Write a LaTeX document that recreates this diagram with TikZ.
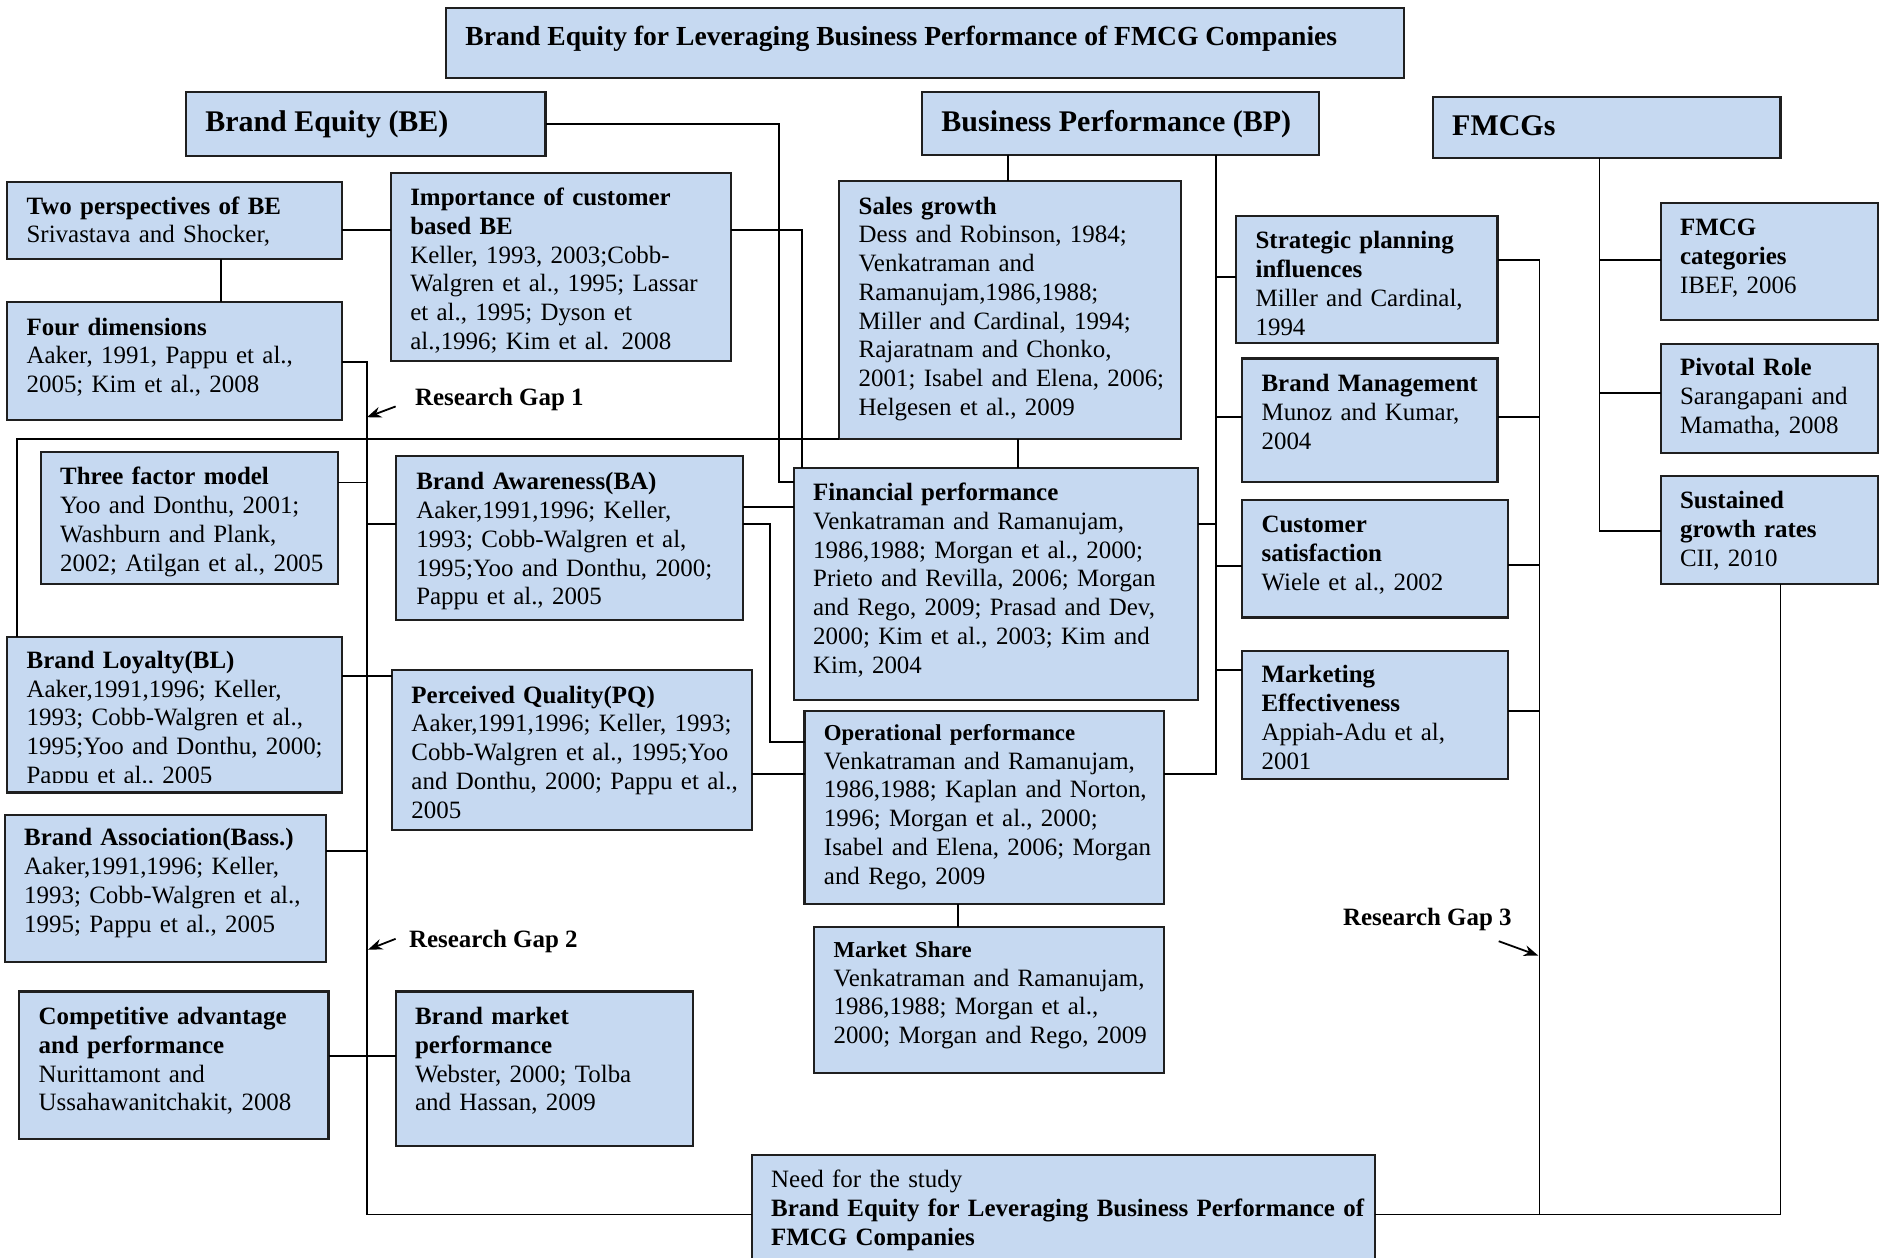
\documentclass[tikz,border=0pt]{standalone}
\usepackage{fontspec}
\setmainfont{Liberation Serif}
\usetikzlibrary{arrows.meta,calc}
\definecolor{boxblue}{RGB}{198,217,241}
\tikzset{
 box/.style={draw=black!88, line width=1.8pt, fill=boxblue, rectangle, inner sep=0pt, outer sep=0pt},
 txt/.style={anchor=base west, inner sep=0pt, align=left, font=\fontsize{20.8}{24}\selectfont},
 head/.style={anchor=base west, inner sep=0pt, font=\fontsize{25}{30}\selectfont\bfseries},
 ttl/.style={anchor=base west, inner sep=0pt, font=\fontsize{23}{28}\selectfont\bfseries},
 rg/.style={anchor=base west, inner sep=0pt, font=\fontsize{20.8}{24}\selectfont\bfseries},
 conn/.style={draw=black, line width=1.5pt},
 arr/.style={conn, -{Stealth[length=12pt,width=9pt]}},
}
\newcommand\BX[5]{\node[box, anchor=north west, minimum width=#4-#2, minimum height=#5-#3] (#1) at (#2,#3) {};}
\begin{document}
\begin{tikzpicture}[x=1pt,y=-1pt]
\clip (0,0) rectangle (1568,1049);
% ---------- boxes ----------
\BX{title}{372}{7}{1171}{65}
\BX{be}{155}{77}{455}{130}
\BX{bp}{769}{77}{1100}{129}
\BX{fmcgs}{1195}{81}{1485}{132}
\BX{twop}{6}{152}{285}{216}
\BX{fourd}{6}{252}{285}{350}
\BX{imp}{326}{144}{610}{301}
\BX{three}{34}{377}{282}{487}
\BX{ba}{330}{380}{620}{517}
\BX{bl}{6}{531}{285}{661}
\BX{pq}{327}{559}{627}{692}
\BX{bass}{4}{680}{272}{802}
\BX{comp}{16}{827}{274}{950}
\BX{bmp}{330}{827}{578}{956}
\BX{sales}{700}{151}{985}{366}
\BX{fin}{662}{390}{999}{584}
\BX{ops}{671}{593}{971}{754}
\BX{ms}{679}{773}{971}{895}
\BX{need}{627}{963}{1147}{1065}
\BX{strat}{1031}{180}{1249}{286}
\BX{bm}{1036}{299}{1249}{402}
\BX{cs}{1036}{417}{1258}{515}
\BX{me}{1036}{543}{1258}{650}
\BX{cat}{1385}{169}{1566}{267}
\BX{piv}{1385}{287}{1566}{378}
\BX{sus}{1385}{397}{1566}{487}
% ---------- texts ----------
\node[ttl] (title-t) at (388,38) {Brand Equity for Leveraging Business Performance of FMCG Companies};
\node[head] (be-t) at (171,110) {Brand Equity (BE)};
\node[head] (bp-t) at (785,110) {Business Performance (BP)};
\node[head] (fmcgs-t) at (1211,113) {FMCGs};
\node[txt, text width=260] (twop-t) at (22,178.5) {\textbf{Two perspectives of BE}\\Srivastava and Shocker,};
\node[txt, text width=260] (fourd-t) at (22,279.5) {\textbf{Four dimensions}\\Aaker, 1991, Pappu et al.,\\2005; Kim et al., 2008};
\node[txt, text width=266] (imp-t) at (342,171.5) {\textbf{Importance of customer}\\\textbf{based BE}\\Keller, 1993, 2003;Cobb-\\Walgren et al., 1995; Lassar\\et al., 1995; Dyson et\\al.,1996; Kim et al. 2008};
\node[txt, text width=230] (three-t) at (50,404.5) {\textbf{Three factor model}\\Yoo and Donthu, 2001;\\Washburn and Plank,\\2002; Atilgan et al., 2005};
\node[txt, text width=271] (ba-t) at (347,408.5) {\textbf{Brand Awareness(BA)}\\Aaker,1991,1996; Keller,\\1993; Cobb-Walgren et al,\\1995;Yoo and Donthu, 2000;\\Pappu et al., 2005};
\begin{scope}
\clip (6,531) rectangle (285,653);
\node[txt, text width=261] (bl-t) at (22,557.5) {\textbf{Brand Loyalty(BL)}\\Aaker,1991,1996; Keller,\\1993; Cobb-Walgren et al.,\\1995;Yoo and Donthu, 2000;\\Pappu et al., 2005};
\end{scope}
\node[txt, text width=282] (pq-t) at (343,586.5) {\textbf{Perceived Quality(PQ)}\\Aaker,1991,1996; Keller, 1993;\\Cobb-Walgren et al., 1995;Yoo\\and Donthu, 2000; Pappu et al.,\\2005};
\node[txt, text width=250] (bass-t) at (20,705.5) {\textbf{Brand Association(Bass.)}\\Aaker,1991,1996; Keller,\\1993; Cobb-Walgren et al.,\\1995; Pappu et al., 2005};
\node[txt, text width=240] (comp-t) at (32,854.5) {\textbf{Competitive advantage}\\\textbf{and performance}\\Nurittamont and\\Ussahawanitchakit, 2008};
\node[txt, text width=230] (bmp-t) at (346,854.5) {\textbf{Brand market}\\\textbf{performance}\\Webster, 2000; Tolba\\and Hassan, 2009};
\node[txt, text width=267] (sales-t) at (716,178.5) {\textbf{Sales growth}\\Dess and Robinson, 1984;\\Venkatraman and\\Ramanujam,1986,1988;\\Miller and Cardinal, 1994;\\Rajaratnam and Chonko,\\2001; Isabel and Elena, 2006;\\Helgesen et al., 2009};
\node[txt, text width=319] (fin-t) at (678,417.5) {\textbf{Financial performance}\\Venkatraman and Ramanujam,\\1986,1988; Morgan et al., 2000;\\Prieto and Revilla, 2006; Morgan\\and Rego, 2009; Prasad and Dev,\\2000; Kim et al., 2003; Kim and\\Kim, 2004};
\node[txt, text width=282] (ops-t) at (687,617.5) {{\fontsize{19}{24}\selectfont\bfseries Operational performance}\\Venkatraman and Ramanujam,\\1986,1988; Kaplan and Norton,\\1996; Morgan et al., 2000;\\Isabel and Elena, 2006; Morgan\\and Rego, 2009};
\node[txt, text width=274] (ms-t) at (695,798.5) {{\fontsize{19}{24}\selectfont\bfseries Market Share}\\Venkatraman and Ramanujam,\\1986,1988; Morgan et al.,\\2000; Morgan and Rego, 2009};
\node[txt, text width=502] (need-t) at (643,990.5) {Need for the study\\\textbf{Brand Equity for Leveraging Business Performance of}\\\textbf{FMCG Companies}};
\node[txt, text width=200] (strat-t) at (1047,207.5) {\textbf{Strategic planning}\\\textbf{influences}\\Miller and Cardinal,\\1994};
\node[txt, text width=195] (bm-t) at (1052,326.5) {\textbf{Brand Management}\\Munoz and Kumar,\\2004};
\node[txt, text width=204] (cs-t) at (1052,444.5) {\textbf{Customer}\\\textbf{satisfaction}\\Wiele et al., 2002};
\node[txt, text width=204] (me-t) at (1052,569.5) {\textbf{Marketing}\\\textbf{Effectiveness}\\Appiah-Adu et al,\\2001};
\node[txt, text width=163] (cat-t) at (1401,196.5) {\textbf{FMCG}\\\textbf{categories}\\IBEF, 2006};
\node[txt, text width=163] (piv-t) at (1401,313.5) {\textbf{Pivotal Role}\\Sarangapani and\\Mamatha, 2008};
\node[txt, text width=163] (sus-t) at (1401,424.5) {\textbf{Sustained}\\\textbf{growth rates}\\CII, 2010};
\node[rg] (rg1) at (346,338) {Research Gap 1};
\node[rg] (rg2) at (341,790) {Research Gap 2};
\node[rg] (rg3) at (1120,772) {Research Gap 3};
% ---------- connectors: left part ----------
\coordinate (jbe) at (650,402);
\draw[conn] (be.east) -| (jbe) -- (jbe -| fin.west);
\coordinate (jimp) at (669,192);
\draw[conn] (jimp -| imp.east) -- (jimp) -- (jimp |- fin.north);
\draw[conn] (jimp -| twop.east) -- (jimp -| imp.west);
\coordinate (jtf) at (184,234);
\draw[conn] (jtf |- twop.south) -- (jtf |- fourd.north);
\coordinate (spT) at (306,302);
\coordinate (spB) at (306,1013);
\draw[conn] (spT -| fourd.east) -- (spT) -- (spB) -- (spB -| need.west);
\coordinate (y3) at (306,402.5);
\draw[conn] (y3 -| three.east) -- (y3);
\coordinate (yba) at (306,437);
\draw[conn] (yba) -- (yba -| ba.west);
\coordinate (ybl) at (306,564);
\draw[conn] (ybl -| bl.east) -- (ybl -| pq.west);
\coordinate (ybass) at (306,710);
\draw[conn] (ybass -| bass.east) -- (ybass);
\coordinate (ycomp) at (306,881);
\draw[conn] (ycomp -| comp.east) -- (ycomp -| bmp.west);
\coordinate (jbl) at (14,366);
\draw[conn] (jbl |- bl.north) -- (jbl) -- (jbl -| sales.west);
\coordinate (yba2) at (640,423);
\draw[conn] (yba2 -| ba.east) -- (yba2 -| fin.west);
\coordinate (jops) at (642,437);
\coordinate (jops2) at (642,619);
\draw[conn] (jops -| ba.east) -- (jops) -- (jops2) -- (jops2 -| ops.west);
\coordinate (ypq) at (650,645.5);
\draw[conn] (ypq -| pq.east) -- (ypq -| ops.west);
% ---------- connectors: BP ----------
\coordinate (xbp) at (841,140);
\draw[conn] (xbp |- bp.south) -- (xbp |- sales.north);
\coordinate (xsf) at (849,378);
\draw[conn] (xsf |- sales.south) -- (xsf |- fin.north);
\coordinate (xom) at (799,763);
\draw[conn] (xom |- ops.south) -- (xom |- ms.north);
\coordinate (bpB) at (1014,645.5);
\draw[conn] (bpB |- bp.south) -- (bpB) -- (bpB -| ops.east);
\coordinate (yfin) at (1014,437);
\draw[conn] (yfin -| fin.east) -- (yfin);
\foreach \yy/\nn in {231/strat,348/bm,472/cs,559/me}{
  \coordinate (bpj) at (1014,\yy);
  \draw[conn] (bpj) -- (bpj -| \nn.west);
}
% ---------- connectors: right spine ----------
\coordinate (rsT) at (1284,217);
\coordinate (rsB) at (1284,1013);
\draw[conn] (rsT -| strat.east) -- (rsT) -- (rsB);
\foreach \yy/\nn in {348/bm,471/cs,593/me}{
  \coordinate (rsj) at (1284,\yy);
  \draw[conn] (rsj -| \nn.east) -- (rsj);
}
\coordinate (susB) at (1485,1013);
\draw[conn] (rsB -| need.east) -- (susB) -- (susB |- sus.south);
% ---------- connectors: FMCGs ----------
\coordinate (fsB) at (1334,443);
\draw[conn] (fsB |- fmcgs.south) -- (fsB) -- (fsB -| sus.west);
\foreach \yy/\nn in {217/cat,328/piv}{
  \coordinate (fsj) at (1334,\yy);
  \draw[conn] (fsj) -- (fsj -| \nn.west);
}
% ---------- research gap arrows ----------
\coordinate (g1s) at (330,339); \coordinate (g1e) at (306,348);
\draw[arr] (g1s) -- (g1e);
\coordinate (g2s) at (330,783); \coordinate (g2e) at (307,792);
\draw[arr] (g2s) -- (g2e);
\coordinate (g3s) at (1250,785); \coordinate (g3e) at (1283,797);
\draw[arr] (g3s) -- (g3e);
\end{tikzpicture}
\end{document}
